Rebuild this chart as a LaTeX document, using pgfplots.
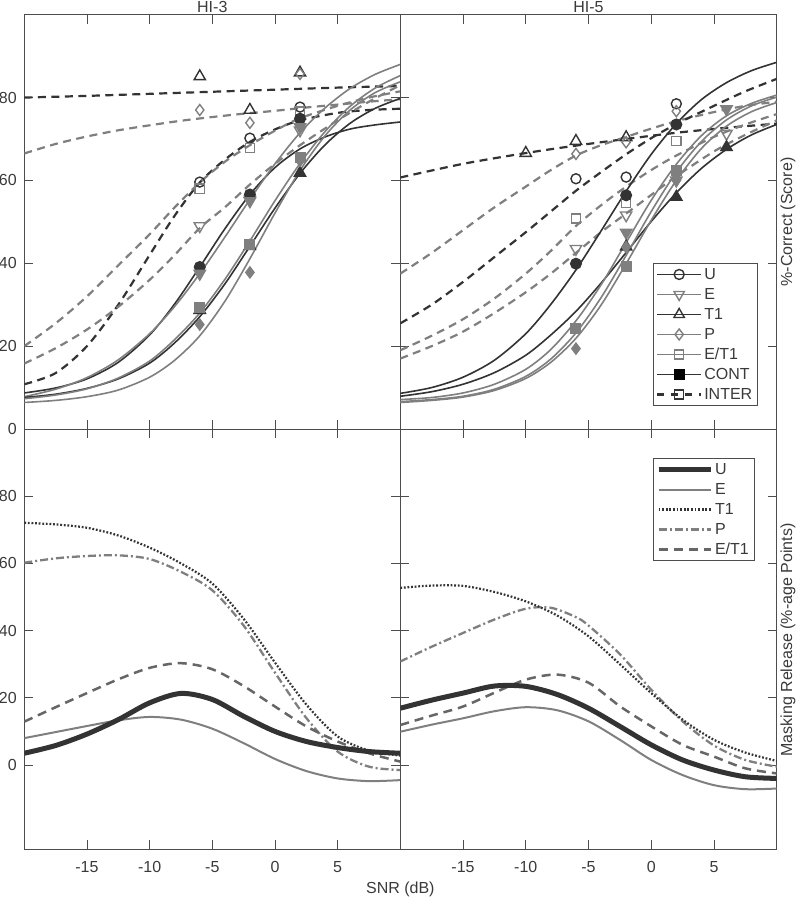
\documentclass[border=0pt]{standalone}
\usepackage{pgfplots}
\pgfplotsset{compat=1.18}
\usepackage{fontspec}
\setmainfont{Liberation Sans}
\definecolor{dk}{HTML}{333333}
\definecolor{gy}{HTML}{7F7F7F}
\definecolor{md}{HTML}{666666}
\definecolor{ax}{HTML}{4D4D4D}
\definecolor{tx}{HTML}{3A3A3A}
\begin{document}
\fontsize{16}{19}\selectfont
\begin{tikzpicture}
\useasboundingbox (0pt,0pt) rectangle (796pt,897pt);
\pgfplotsset{
  panel/.style={scale only axis, anchor=south west, width=376pt, xmin=-20, xmax=10,
    axis line style={ax, line width=0.9pt}, tick style={ax, line width=0.9pt},
    major tick length=9pt, xtick={-15,-10,-5,0,5}, ytick={0,20,40,60,80},
    tick align=inside, xtick pos=both, ytick pos=both,
    tick label style={font=\fontsize{16}{19}\selectfont, text=tx},
    xticklabel style={yshift=-6.5pt}, yticklabel style={xshift=-2pt},
    clip=true},
  toppanel/.style={panel, height=414.3pt, ymin=0, ymax=100, xticklabels={}},
  botpanel/.style={panel, height=420pt, ymin=-25, ymax=100, xticklabels={-15,-10,-5,0,5}},
  dkS/.style={dk, line width=1.6pt, smooth, forget plot},
  gyS/.style={gy, line width=1.6pt, smooth, forget plot},
  dkD/.style={dk, line width=2.2pt, smooth, dash pattern=on 8pt off 5.5pt, forget plot},
  gyD/.style={gy, line width=2.2pt, smooth, dash pattern=on 8pt off 5.5pt, forget plot},
  mk/.style={only marks, forget plot, mark options={solid, line width=1.4pt}},
  mU/.style={mk, dk, mark=o, mark size=5pt},
  mUf/.style={mk, dk, mark=*, mark size=5.3pt},
  mE/.style={mk, gy, mark=triangle, mark size=6.5pt, mark options={solid, line width=1.4pt, rotate=180}},
  mEf/.style={mk, gy, mark=triangle*, mark size=6.5pt, mark options={solid, line width=1.4pt, rotate=180}},
  mT/.style={mk, dk, mark=triangle, mark size=6.5pt},
  mTf/.style={mk, dk, mark=triangle*, mark size=6.5pt},
  mP/.style={mk, gy, mark=diamond, mark size=5.5pt},
  mPf/.style={mk, gy, mark=diamond*, mark size=5.5pt},
  mS/.style={mk, gy, mark=square, mark size=4.6pt},
  mSf/.style={mk, gy, mark=square*, mark size=4.8pt},
  legbox/.style={legend style={anchor=north west, draw=ax, fill=white,
    font=\fontsize{16}{19}\selectfont, text=tx, inner xsep=3pt, inner ysep=2pt, row sep=2pt,
    nodes={inner sep=2pt, text height=12pt, text depth=2pt}}, legend cell align=left},
}
% ---------------- HI-3 top ----------------
\begin{axis}[toppanel, at={(24.3pt,468pt)}, yticklabels={0,20,40,60,80}]
\addplot[dkD] coordinates {(-20,80.0)(-15,80.4)(-10,80.9)(-5,81.4)(0,81.9)(5,82.4)(10,82.8)};
\addplot[gyD] coordinates {(-20,66.5)(-17.5,68.8)(-15,70.6)(-12.5,72.1)(-10,73.3)(-7.5,74.4)(-5,75.3)(-2.5,76.1)(0,76.8)(2.5,77.6)(5,78.3)(7.5,79.0)(10,79.6)};
\addplot[dkD] coordinates {(-20,10.8)(-17.5,13.5)(-15,20)(-12.5,30)(-10,42)(-8,51.5)(-6,59.5)(-4,65)(-2,69.3)(0,72.3)(2,74.5)(5,76.3)(7.5,77)(10,77.3)};
\addplot[gyD] coordinates {(-20,20)(-17.5,25.5)(-15,32)(-12.5,39.5)(-10,47)(-8,53.5)(-6,59.5)(-4,64.5)(-2,68.5)(0,72)(2,75)(5,78)(7.5,80)(10,81.5)};
\addplot[gyD] coordinates {(-20,15.8)(-17.5,19.5)(-15,24)(-12.5,29.5)(-10,36)(-8,42)(-6,48.5)(-4,53.5)(-2,59)(0,64)(2,68.5)(5,74.5)(7.5,79)(10,83)};
\addplot[dkS] coordinates {(-20,8.7)(-17.5,9.9)(-15,12.1)(-12.5,16.1)(-10,22.7)(-8,30.2)(-6,39.1)(-4,48.3)(-2,56.6)(0,63.1)(2,67.6)(4,70.5)(6,72.4)(8,73.4)(10,74.1)};
\addplot[gyS] coordinates {(-20,7.8)(-17.5,9.6)(-15,12.4)(-12.5,16.7)(-10,23.0)(-8,29.6)(-6,37.5)(-4,46.3)(-2,55.4)(0,64.0)(2,71.5)(4,77.5)(6,82.2)(8,85.6)(10,88.0)};
\addplot[dkS] coordinates {(-20,7.6)(-17.5,8.4)(-15,9.8)(-12.5,12.1)(-10,15.9)(-8,20.8)(-6,27.1)(-4,35.0)(-2,44.1)(0,53.3)(2,61.7)(4,68.6)(6,73.8)(8,77.4)(10,79.8)};
\addplot[gyS] coordinates {(-20,7.3)(-17.5,8.2)(-15,9.7)(-12.5,12.3)(-10,16.4)(-8,21.6)(-6,28.0)(-4,36.1)(-2,45.4)(0,55.1)(2,64.1)(4,71.8)(6,77.9)(8,82.3)(10,85.3)};
\addplot[gyS] coordinates {(-20,6.4)(-17.5,6.9)(-15,7.8)(-12.5,9.4)(-10,12.5)(-8,16.6)(-6,22.5)(-4,30.8)(-2,41.1)(0,52.1)(2,62.4)(4,70.8)(6,77.0)(8,81.2)(10,83.8)};
\addplot[mU] coordinates {(-6,59.6)(-2,70.2)(2,77.7)};
\addplot[mE] coordinates {(-6,49.0)(-2,55.4)(2,72.1)};
\addplot[mT] coordinates {(-6,85.1)(-2,77.0)(2,86.0)};
\addplot[mP] coordinates {(-6,77.0)(-2,73.9)(2,85.7)};
\addplot[mS] coordinates {(-6,58.0)(-2,67.8)(2,76.6)};
\addplot[mUf] coordinates {(-6,39.1)(-2,56.6)(2,74.9)};
\addplot[mEf] coordinates {(-6,37.5)(-2,55.0)(2,72.9)};
\addplot[mTf] coordinates {(-6,28.7)(-2,44.1)(2,61.8)};
\addplot[mSf] coordinates {(-6,29.3)(-2,44.5)(2,65.6)};
\addplot[mPf] coordinates {(-6,25.2)(-2,37.8)(2,64.7)};
\end{axis}
% ---------------- HI-5 top ----------------
\begin{axis}[toppanel, at={(400.3pt,468pt)}, width=376.4pt, yticklabels={}, legbox,
  legend style={at={(0.671,0.4)}},
  legend image code/.code={\draw[mark repeat=2,mark phase=2,#1] plot coordinates {(0pt,0pt) (22pt,0pt) (44pt,0pt)};}]
\addplot[dkD] coordinates {(-20,60.7)(-15,64)(-10,66.6)(-6,68.4)(-2,70)(2,71.5)(6,72.7)(10,73.7)};
\addplot[gyD] coordinates {(-20,37.5)(-17.5,42.5)(-15,48)(-12.5,53.5)(-10,58.5)(-8,62.5)(-6,66)(-4,68.5)(-2,70.5)(0,72.5)(2,74.3)(5,76.5)(7.5,78)(10,79)};
\addplot[dkD] coordinates {(-20,25.5)(-17.5,30)(-15,35.5)(-12.5,41.5)(-10,47.5)(-8,52.5)(-6,57.5)(-4,62)(-2,66.3)(0,70.2)(2,73.6)(5,78)(7.5,81.5)(10,84.5)};
\addplot[gyD] coordinates {(-20,19)(-17.5,22.5)(-15,26.5)(-12.5,31.5)(-10,37.5)(-8,43)(-6,49)(-4,54)(-2,58.5)(0,62.5)(2,66)(5,70.5)(7.5,73.5)(10,76)};
\addplot[gyD] coordinates {(-20,17)(-17.5,20)(-15,23.5)(-12.5,28)(-10,33)(-8,37.5)(-6,42.5)(-4,47.5)(-2,52)(0,56.5)(2,61)(5,67)(7.5,71)(10,74.5)};
\addplot[dkS] coordinates {(-20,8.6)(-17.5,10.0)(-15,12.5)(-12.5,16.6)(-10,23.0)(-8,30.1)(-6,38.4)(-4,47.8)(-2,57.4)(0,66.3)(2,73.7)(4,79.5)(6,83.6)(8,86.5)(10,88.5)};
\addplot[dkS] coordinates {(-20,7.9)(-17.5,9.0)(-15,10.8)(-12.5,13.6)(-10,17.8)(-8,22.7)(-6,28.4)(-4,35.2)(-2,42.6)(0,50.1)(2,57.0)(4,62.9)(6,67.5)(8,71.0)(10,73.5)};
\addplot[gyS] coordinates {(-20,7.1)(-17.5,7.6)(-15,8.7)(-12.5,10.8)(-10,14.4)(-8,19.2)(-6,26.1)(-4,34.8)(-2,45.0)(0,55.2)(2,63.9)(4,70.8)(6,75.6)(8,78.6)(10,80.6)};
\addplot[gyS] coordinates {(-20,6.6)(-17.5,7.1)(-15,7.9)(-12.5,9.6)(-10,12.7)(-8,16.9)(-6,23.2)(-4,31.7)(-2,41.9)(0,52.5)(2,62.0)(4,69.4)(6,74.6)(8,78.0)(10,80.1)};
\addplot[gyS] coordinates {(-20,6.4)(-17.5,6.9)(-15,7.7)(-12.5,9.3)(-10,12.2)(-8,16.1)(-6,21.9)(-4,29.9)(-2,39.9)(0,50.4)(2,60.0)(4,67.7)(6,73.1)(8,76.6)(10,78.8)};
\addplot[mU] coordinates {(-6,60.4)(-2,60.8)(2,78.5)};
\addplot[mE] coordinates {(-6,43.5)(-2,51.6)(6,71.3)};
\addplot[mT] coordinates {(-10,66.6)(-6,69.5)(-2,70.4)};
\addplot[mP] coordinates {(-6,66.4)(-2,69.2)(2,76.7)};
\addplot[mS] coordinates {(-6,50.8)(-2,54.6)(2,69.5)};
\addplot[mUf] coordinates {(-6,39.9)(-2,56.4)(2,73.5)};
\addplot[mEf] coordinates {(-2,47.4)(2,60.0)(6,77.2)};
\addplot[mTf] coordinates {(-2,44.0)(2,56.0)(6,68.0)};
\addplot[mPf] coordinates {(-6,19.4)(-2,43.9)(2,60.0)};
\addplot[mSf] coordinates {(-6,24.3)(-2,39.3)(2,62.4)};
\addlegendimage{dk, line width=1.6pt, mark=o, mark size=5pt, mark options={solid, line width=1.4pt}}
\addlegendentry{U}
\addlegendimage{gy, line width=1.6pt, mark=triangle, mark size=6pt, mark options={solid, line width=1.4pt, rotate=180}}
\addlegendentry{E}
\addlegendimage{dk, line width=1.6pt, mark=triangle, mark size=6pt, mark options={solid, line width=1.4pt}}
\addlegendentry{T1}
\addlegendimage{gy, line width=1.6pt, mark=diamond, mark size=5.5pt, mark options={solid, line width=1.4pt}}
\addlegendentry{P}
\addlegendimage{gy, line width=1.6pt, mark=square, mark size=4.6pt, mark options={solid, line width=1.4pt}}
\addlegendentry{E/T1}
\addlegendimage{dk, line width=1.6pt, mark=square*, mark size=4.8pt, mark options={solid, fill=black, draw=black}}
\addlegendentry{CONT}
\addlegendimage{dk, line width=2.2pt, dash pattern=on 7pt off 7pt, mark=square, mark size=4.6pt, mark options={solid, line width=1.4pt}}
\addlegendentry{INTER}
\end{axis}
% ---------------- HI-3 bottom ----------------
\begin{axis}[botpanel, at={(24.3pt,48pt)}, yticklabels={0,20,40,60,80}]
\addplot[gy, line width=2.3pt, smooth, dash pattern=on 8pt off 3pt on 2pt off 3pt, forget plot] coordinates {(-20,60.2)(-17.5,61.5)(-15,62.2)(-12.5,62.4)(-10,61.3)(-7.5,57.5)(-5,52)(-2.5,41.5)(0,27.5)(2.5,14)(5,4)(7.5,-0.5)(10,-1.5)};
\addplot[dk, line width=2.2pt, smooth, dash pattern=on 1.8pt off 1.8pt, forget plot] coordinates {(-20,72.1)(-17.5,71.6)(-15,70.6)(-12.5,68.3)(-10,64.7)(-7.5,60.0)(-5,54)(-2.5,43.5)(0,30.5)(2.5,18)(5,8.5)(7.5,4.3)(10,2.8)};
\addplot[md, line width=2.5pt, smooth, dash pattern=on 9pt off 6pt, forget plot] coordinates {(-20,12.9)(-17.5,17.2)(-15,21.4)(-12.5,25.5)(-10,28.9)(-7.5,30.3)(-5,28.5)(-2.5,23.5)(0,17.4)(2.5,11.5)(5,7)(7.5,3.5)(10,1.0)};
\addplot[gy, line width=2pt, smooth, forget plot] coordinates {(-20,8)(-17.5,9.8)(-15,11.6)(-12.5,13.3)(-10,14.3)(-7.5,13.5)(-5,10.8)(-2.5,6.5)(0,1.8)(2.5,-1.8)(5,-4)(7.5,-4.8)(10,-4.5)};
\addplot[dk, line width=5pt, smooth, forget plot] coordinates {(-20,3.5)(-17.5,5.8)(-15,9.2)(-12.5,13.5)(-10,18.5)(-7.5,21.3)(-5,19.5)(-2.5,14.5)(0,10)(2.5,7)(5,5.2)(7.5,4)(10,3.5)};
\end{axis}
% ---------------- HI-5 bottom ----------------
\begin{axis}[botpanel, at={(400.3pt,48pt)}, width=376.4pt, yticklabels={}, legbox,
  legend style={at={(0.671,0.93)}},
  legend image code/.code={\draw[#1] (0pt,0pt) -- (52pt,0pt);}]
\addplot[gy, line width=2.3pt, smooth, dash pattern=on 8pt off 3pt on 2pt off 3pt, forget plot] coordinates {(-20,30.8)(-17.5,35.2)(-15,39.3)(-12.5,43.3)(-10,46.5)(-8,46.8)(-6,44)(-5,41.5)(-2.5,33)(0,22.4)(2.5,13)(5,5.8)(7.5,1.5)(10,-0.5)};
\addplot[dk, line width=2.2pt, smooth, dash pattern=on 1.8pt off 1.8pt, forget plot] coordinates {(-20,52.7)(-17.5,53.4)(-15,53.3)(-12.5,51.5)(-10,48.7)(-7.5,44.5)(-5,38.3)(-2.5,30)(0,21.4)(2.5,13.5)(5,7.5)(7.5,3.7)(10,1.2)};
\addplot[md, line width=2.5pt, smooth, dash pattern=on 9pt off 6pt, forget plot] coordinates {(-20,11.9)(-17.5,14.7)(-15,17.4)(-12.5,21.5)(-10,25.4)(-7.5,26.9)(-5,24.5)(-2.5,17.5)(0,11.5)(2.5,6)(5,2.5)(7.5,-1)(10,-2.5)};
\addplot[gy, line width=2pt, smooth, forget plot] coordinates {(-20,9.9)(-17.5,12)(-15,13.9)(-12.5,16)(-10,17.2)(-7.5,16.3)(-5,13)(-2.5,7.5)(0,1.5)(2.5,-3)(5,-6)(7.5,-7.2)(10,-7)};
\addplot[dk, line width=5pt, smooth, forget plot] coordinates {(-20,16.9)(-17.5,19.3)(-15,21.4)(-12.5,23.5)(-10,23.4)(-7.5,21)(-5,16.9)(-2.5,11.5)(0,6)(2.5,1.5)(5,-1.5)(7.5,-3.5)(10,-4)};
\addlegendimage{dk, line width=5pt}
\addlegendentry{U}
\addlegendimage{gy, line width=2pt}
\addlegendentry{E}
\addlegendimage{dk, line width=2.2pt, dash pattern=on 1.8pt off 1.8pt}
\addlegendentry{T1}
\addlegendimage{gy, line width=2.3pt, dash pattern=on 8pt off 3pt on 2pt off 3pt}
\addlegendentry{P}
\addlegendimage{md, line width=2.5pt, dash pattern=on 9pt off 6pt}
\addlegendentry{E/T1}
\end{axis}
% ---------------- labels ----------------
\node[anchor=base, inner sep=0pt, text=tx] at (212.3pt,884.3pt) {HI-3};
\node[anchor=base, inner sep=0pt, text=tx] at (588.5pt,884.3pt) {HI-5};
\node[anchor=base, inner sep=0pt, text=tx] at (400.3pt,4pt) {SNR (dB)};
\node[anchor=base, inner sep=0pt, text=tx, rotate=90] at (792pt,675pt) {\%-Correct (Score)};
\node[anchor=base, inner sep=0pt, text=tx, rotate=90] at (792pt,257pt) {Masking Release (\%-age Points)};
\end{tikzpicture}
\end{document}
